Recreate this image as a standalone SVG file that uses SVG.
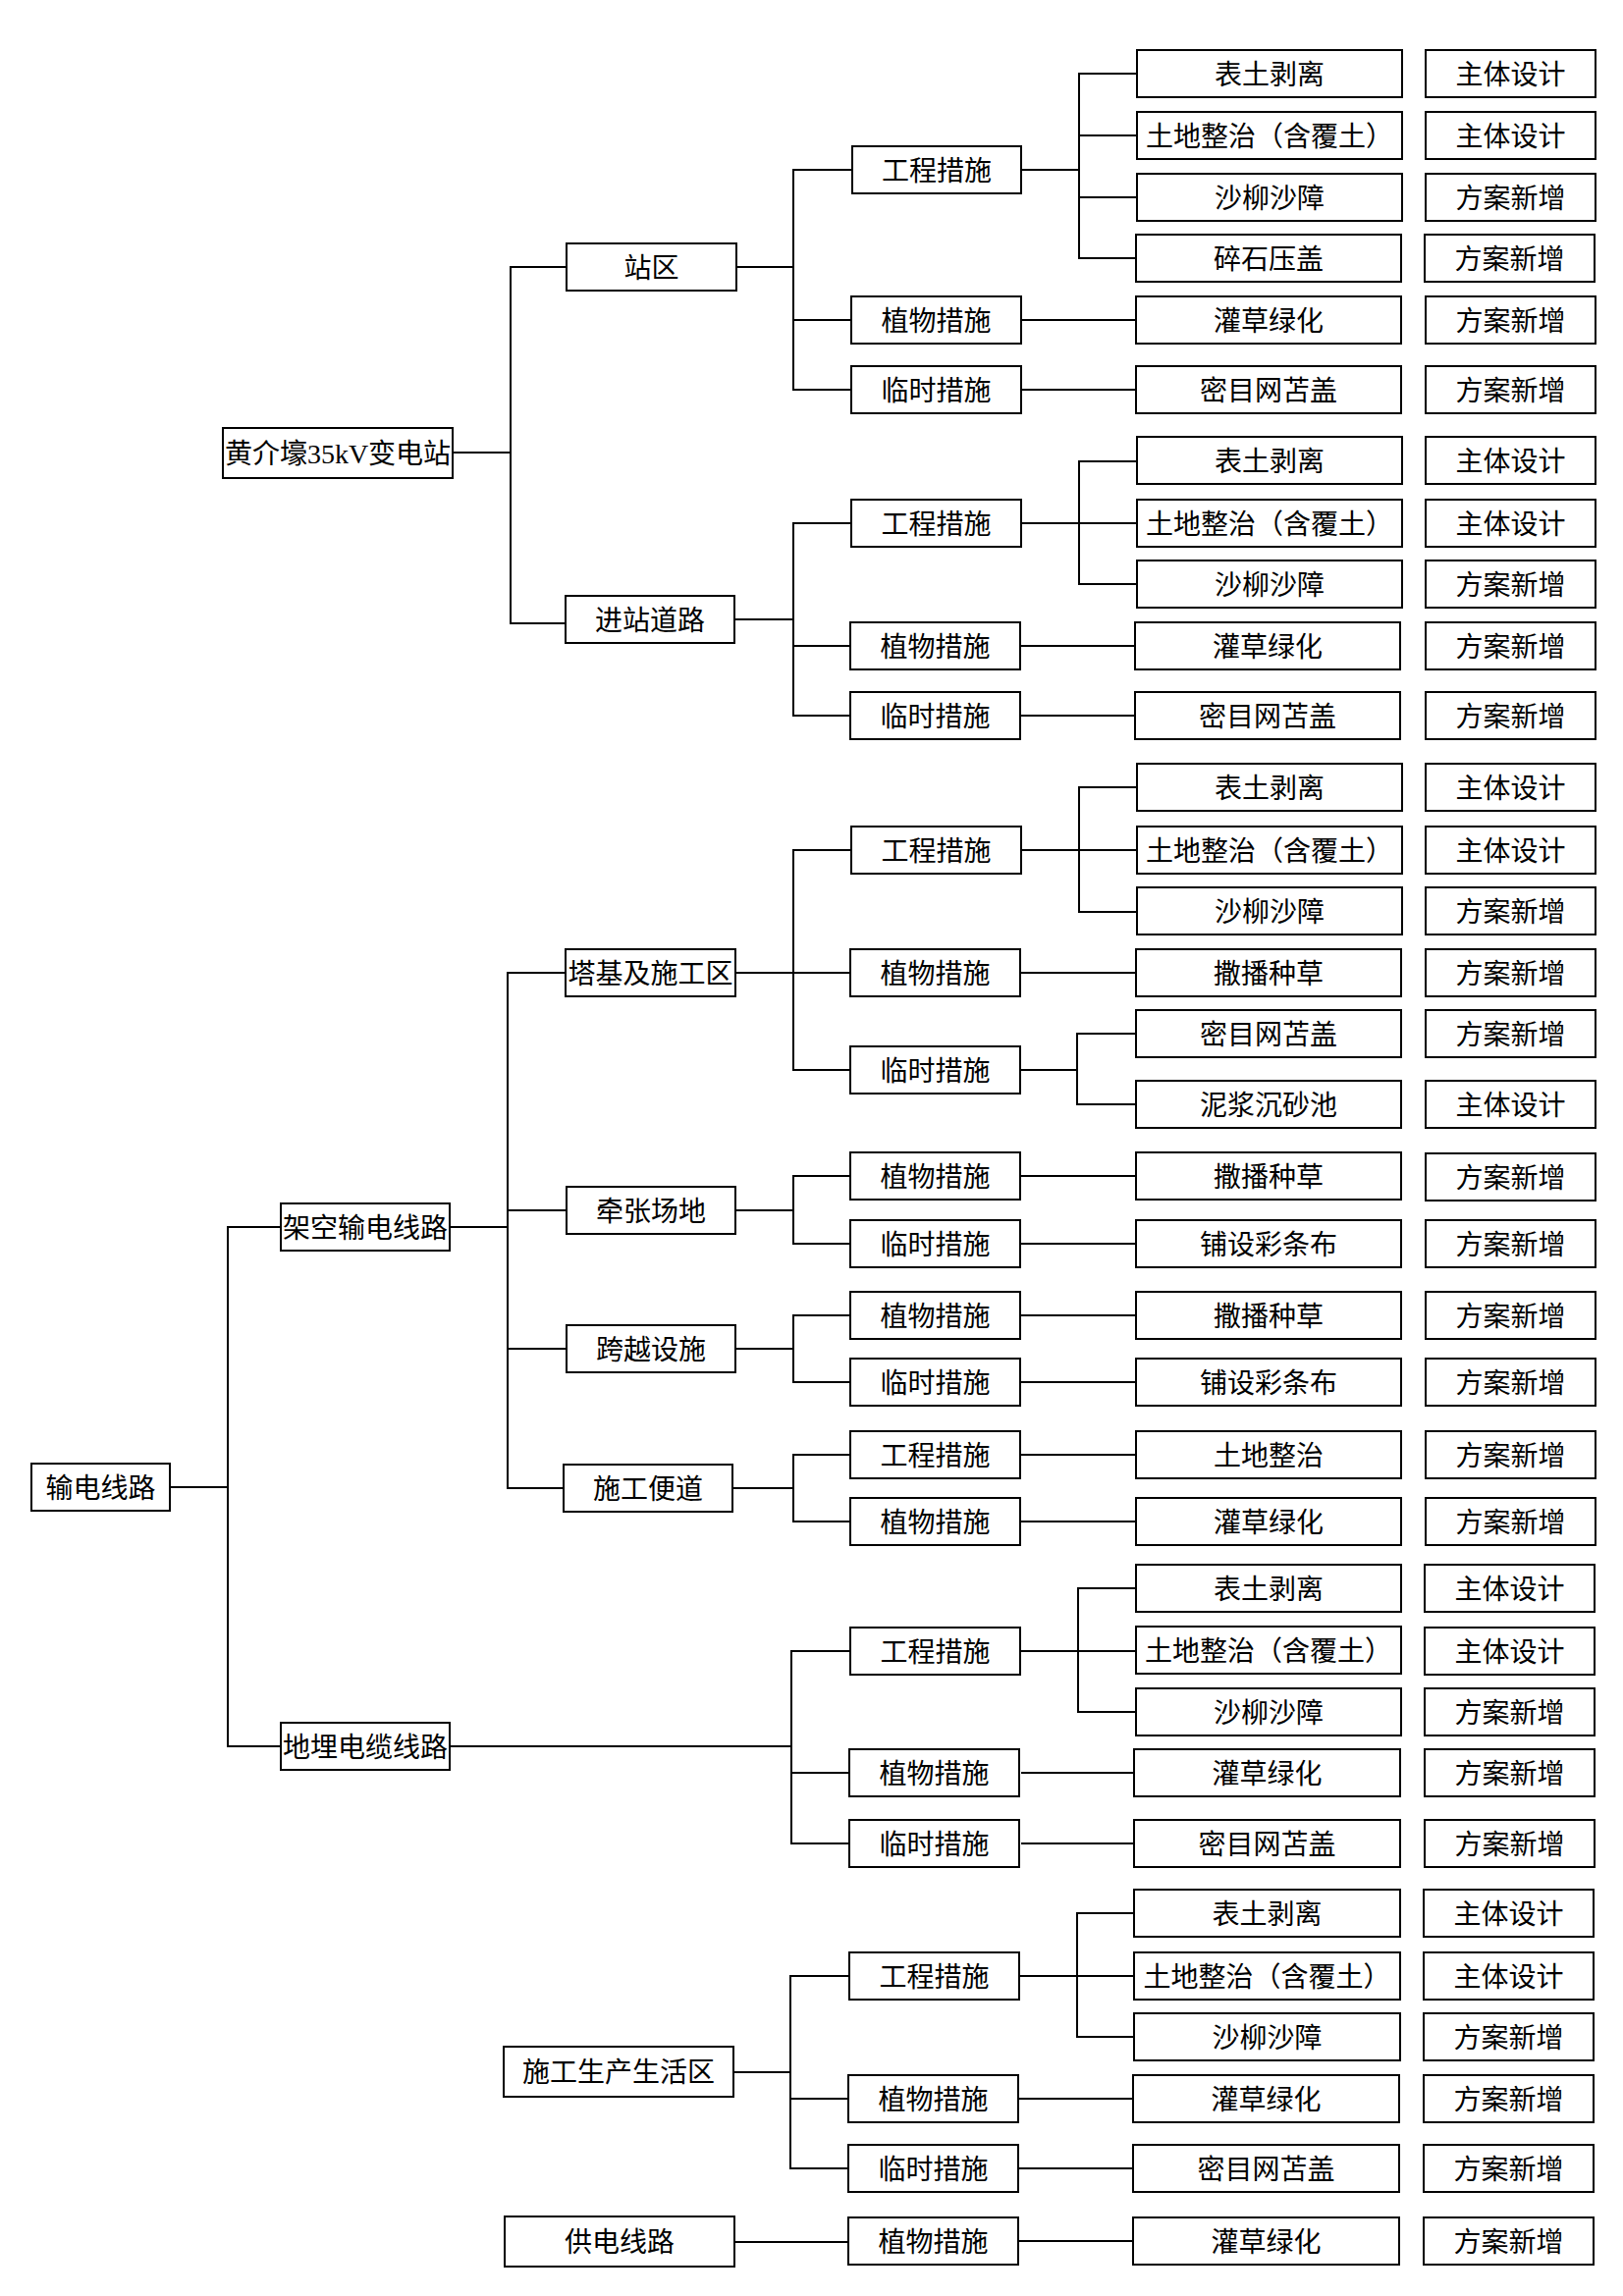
<svg xmlns="http://www.w3.org/2000/svg" width="1653" height="2339" viewBox="0 0 1653 2339">
<style>
.b{fill:#fff;stroke:#000;stroke-width:2}
.t{font-family:"Liberation Serif","Noto Sans CJK SC",serif;font-size:28px;fill:#000;text-anchor:middle;dominant-baseline:central}
.c{fill:none;stroke:#000;stroke-width:2}
</style>
<rect width="1653" height="2339" fill="#fff"/>
<g id="connectors" class="c">
<path d="M461,461H520M577,272H520V635H576"/>
<path d="M750,272H808M867,173H808V397H867M808,326H867"/>
<path d="M1040,173H1099M1158,75H1099V263H1157M1099,138H1158M1099,201H1158"/>
<path d="M1040,326H1157M1040,397H1157"/>
<path d="M748,631H808M867,533H808V729H867M808,658H867"/>
<path d="M1040,533H1099M1158,470H1099V595H1158M1099,533H1158"/>
<path d="M1040,658H1156M1040,729H1156"/>
<path d="M458,1250H517M576,991H517V1516H574M517,1233H577M517,1374H577"/>
<path d="M749,991H808M867,866H808V1090H867M808,991H867"/>
<path d="M1040,866H1099M1158,802H1099V929H1158M1099,866H1158"/>
<path d="M1040,991H1157"/>
<path d="M1040,1090H1097M1157,1053H1097V1125H1157"/>
<path d="M749,1233H808M867,1198H808V1267H867M1040,1198H1157M1040,1267H1157"/>
<path d="M749,1374H808M867,1340H808V1408H867M1040,1340H1157M1040,1408H1157"/>
<path d="M746,1516H808M867,1482H808V1550H867M1040,1482H1157M1040,1550H1157"/>
<path d="M173,1515H232M286,1250H232V1779H286"/>
<path d="M458,1779H806M866,1682H806V1878H866M806,1806H866"/>
<path d="M1040,1682H1098M1157,1618H1098V1744H1157M1098,1682H1157"/>
<path d="M1040,1806H1155M1040,1878H1155"/>
<path d="M747,2111H805M865,2013H805V2209H865M805,2138H865"/>
<path d="M1038,2013H1097M1155,1949H1097V2075H1155M1097,2013H1155"/>
<path d="M1038,2138H1154M1038,2209H1154"/>
<path d="M748,2284H865M1038,2283H1154"/>
</g>

<!-- root level -->
<g id="n-huangjie"><rect class="b" x="227" y="436" width="234" height="51"/><text class="t" x="344" y="462.5">黄介壕35kV变电站</text></g>
<g id="n-shudian"><rect class="b" x="32" y="1491" width="141" height="48"/><text class="t" x="102.5" y="1516">输电线路</text></g>
<g id="n-jiakong"><rect class="b" x="286" y="1226" width="172" height="48"/><text class="t" x="372" y="1251">架空输电线路</text></g>
<g id="n-dimai"><rect class="b" x="286" y="1755" width="172" height="48"/><text class="t" x="372" y="1780">地埋电缆线路</text></g>

<!-- level 1 -->
<g id="n-zhanqu"><rect class="b" x="577" y="248" width="173" height="48"/><text class="t" x="663.5" y="273">站区</text></g>
<g id="n-jinzhan"><rect class="b" x="576" y="607" width="172" height="48"/><text class="t" x="662" y="632">进站道路</text></g>
<g id="n-taji"><rect class="b" x="576" y="967" width="173" height="48"/><text class="t" x="662.5" y="992">塔基及施工区</text></g>
<g id="n-qianzhang"><rect class="b" x="577" y="1209" width="172" height="48"/><text class="t" x="663" y="1234">牵张场地</text></g>
<g id="n-kuayue"><rect class="b" x="577" y="1350" width="172" height="48"/><text class="t" x="663" y="1375">跨越设施</text></g>
<g id="n-biandao"><rect class="b" x="574" y="1492" width="172" height="48"/><text class="t" x="660" y="1517">施工便道</text></g>
<g id="n-shenghuo"><rect class="b" x="513" y="2085" width="234" height="51"/><text class="t" x="630" y="2111.5">施工生产生活区</text></g>
<g id="n-gongdian"><rect class="b" x="514" y="2258" width="234" height="51"/><text class="t" x="631" y="2284.5">供电线路</text></g>

<!-- level 2 -->
<g id="n-a-gc"><rect class="b" x="868" y="149" width="172" height="48"/><text class="t" x="954" y="174">工程措施</text></g>
<g id="n-a-zw"><rect class="b" x="867" y="302" width="173" height="48"/><text class="t" x="953.5" y="327">植物措施</text></g>
<g id="n-a-ls"><rect class="b" x="867" y="373" width="173" height="48"/><text class="t" x="953.5" y="398">临时措施</text></g>
<g id="n-b-gc"><rect class="b" x="867" y="509" width="173" height="48"/><text class="t" x="953.5" y="534">工程措施</text></g>
<g id="n-b-zw"><rect class="b" x="866" y="634" width="173" height="48"/><text class="t" x="952.5" y="659">植物措施</text></g>
<g id="n-b-ls"><rect class="b" x="866" y="705" width="173" height="48"/><text class="t" x="952.5" y="730">临时措施</text></g>
<g id="n-c-gc"><rect class="b" x="867" y="842" width="173" height="48"/><text class="t" x="953.5" y="867">工程措施</text></g>
<g id="n-c-zw"><rect class="b" x="866" y="967" width="173" height="48"/><text class="t" x="952.5" y="992">植物措施</text></g>
<g id="n-c-ls"><rect class="b" x="866" y="1066" width="173" height="48"/><text class="t" x="952.5" y="1091">临时措施</text></g>
<g id="n-d-zw"><rect class="b" x="866" y="1174" width="173" height="48"/><text class="t" x="952.5" y="1199">植物措施</text></g>
<g id="n-d-ls"><rect class="b" x="866" y="1243" width="173" height="48"/><text class="t" x="952.5" y="1268">临时措施</text></g>
<g id="n-e-zw"><rect class="b" x="866" y="1316" width="173" height="48"/><text class="t" x="952.5" y="1341">植物措施</text></g>
<g id="n-e-ls"><rect class="b" x="866" y="1384" width="173" height="48"/><text class="t" x="952.5" y="1409">临时措施</text></g>
<g id="n-f-gc"><rect class="b" x="866" y="1458" width="173" height="48"/><text class="t" x="952.5" y="1483">工程措施</text></g>
<g id="n-f-zw"><rect class="b" x="866" y="1526" width="173" height="48"/><text class="t" x="952.5" y="1551">植物措施</text></g>
<g id="n-g-gc"><rect class="b" x="866" y="1658" width="173" height="48"/><text class="t" x="952.5" y="1683">工程措施</text></g>
<g id="n-g-zw"><rect class="b" x="865" y="1782" width="173" height="48"/><text class="t" x="951.5" y="1807">植物措施</text></g>
<g id="n-g-ls"><rect class="b" x="865" y="1854" width="173" height="48"/><text class="t" x="951.5" y="1879">临时措施</text></g>
<g id="n-h-gc"><rect class="b" x="865" y="1989" width="173" height="48"/><text class="t" x="951.5" y="2014">工程措施</text></g>
<g id="n-h-zw"><rect class="b" x="864" y="2114" width="173" height="48"/><text class="t" x="950.5" y="2139">植物措施</text></g>
<g id="n-h-ls"><rect class="b" x="864" y="2185" width="173" height="48"/><text class="t" x="950.5" y="2210">临时措施</text></g>
<g id="n-i-zw"><rect class="b" x="864" y="2259" width="173" height="48"/><text class="t" x="950.5" y="2284">植物措施</text></g>

<!-- level 3 and 4 -->
<g id="n-a1"><rect class="b" x="1158" y="51" width="270" height="48"/><text class="t" x="1293" y="76">表土剥离</text></g>
<g id="n-a1s"><rect class="b" x="1452" y="51" width="173" height="48"/><text class="t" x="1538.5" y="76">主体设计</text></g>
<g id="n-a2"><rect class="b" x="1158" y="114" width="270" height="48"/><text class="t" x="1293" y="139">土地整治（含覆土）</text></g>
<g id="n-a2s"><rect class="b" x="1452" y="114" width="173" height="48"/><text class="t" x="1538.5" y="139">主体设计</text></g>
<g id="n-a3"><rect class="b" x="1158" y="177" width="270" height="48"/><text class="t" x="1293" y="202">沙柳沙障</text></g>
<g id="n-a3s"><rect class="b" x="1452" y="177" width="173" height="48"/><text class="t" x="1538.5" y="202">方案新增</text></g>
<g id="n-a4"><rect class="b" x="1157" y="239" width="270" height="48"/><text class="t" x="1292" y="264">碎石压盖</text></g>
<g id="n-a4s"><rect class="b" x="1451" y="239" width="173" height="48"/><text class="t" x="1537.5" y="264">方案新增</text></g>
<g id="n-a5"><rect class="b" x="1157" y="302" width="270" height="48"/><text class="t" x="1292" y="327">灌草绿化</text></g>
<g id="n-a5s"><rect class="b" x="1452" y="302" width="173" height="48"/><text class="t" x="1538.5" y="327">方案新增</text></g>
<g id="n-a6"><rect class="b" x="1157" y="373" width="270" height="48"/><text class="t" x="1292" y="398">密目网苫盖</text></g>
<g id="n-a6s"><rect class="b" x="1452" y="373" width="173" height="48"/><text class="t" x="1538.5" y="398">方案新增</text></g>

<g id="n-b1"><rect class="b" x="1158" y="445" width="270" height="48"/><text class="t" x="1293" y="470">表土剥离</text></g>
<g id="n-b1s"><rect class="b" x="1452" y="445" width="173" height="48"/><text class="t" x="1538.5" y="470">主体设计</text></g>
<g id="n-b2"><rect class="b" x="1158" y="509" width="270" height="48"/><text class="t" x="1293" y="534">土地整治（含覆土）</text></g>
<g id="n-b2s"><rect class="b" x="1452" y="509" width="173" height="48"/><text class="t" x="1538.5" y="534">主体设计</text></g>
<g id="n-b3"><rect class="b" x="1158" y="571" width="270" height="48"/><text class="t" x="1293" y="596">沙柳沙障</text></g>
<g id="n-b3s"><rect class="b" x="1452" y="571" width="173" height="48"/><text class="t" x="1538.5" y="596">方案新增</text></g>
<g id="n-b4"><rect class="b" x="1156" y="634" width="270" height="48"/><text class="t" x="1291" y="659">灌草绿化</text></g>
<g id="n-b4s"><rect class="b" x="1452" y="634" width="173" height="48"/><text class="t" x="1538.5" y="659">方案新增</text></g>
<g id="n-b5"><rect class="b" x="1156" y="705" width="270" height="48"/><text class="t" x="1291" y="730">密目网苫盖</text></g>
<g id="n-b5s"><rect class="b" x="1452" y="705" width="173" height="48"/><text class="t" x="1538.5" y="730">方案新增</text></g>

<g id="n-c1"><rect class="b" x="1158" y="778" width="270" height="48"/><text class="t" x="1293" y="803">表土剥离</text></g>
<g id="n-c1s"><rect class="b" x="1452" y="778" width="173" height="48"/><text class="t" x="1538.5" y="803">主体设计</text></g>
<g id="n-c2"><rect class="b" x="1158" y="842" width="270" height="48"/><text class="t" x="1293" y="867">土地整治（含覆土）</text></g>
<g id="n-c2s"><rect class="b" x="1452" y="842" width="173" height="48"/><text class="t" x="1538.5" y="867">主体设计</text></g>
<g id="n-c3"><rect class="b" x="1158" y="904" width="270" height="48"/><text class="t" x="1293" y="929">沙柳沙障</text></g>
<g id="n-c3s"><rect class="b" x="1452" y="904" width="173" height="48"/><text class="t" x="1538.5" y="929">方案新增</text></g>
<g id="n-c4"><rect class="b" x="1157" y="967" width="270" height="48"/><text class="t" x="1292" y="992">撒播种草</text></g>
<g id="n-c4s"><rect class="b" x="1452" y="967" width="173" height="48"/><text class="t" x="1538.5" y="992">方案新增</text></g>
<g id="n-c5"><rect class="b" x="1157" y="1029" width="270" height="48"/><text class="t" x="1292" y="1054">密目网苫盖</text></g>
<g id="n-c5s"><rect class="b" x="1452" y="1029" width="173" height="48"/><text class="t" x="1538.5" y="1054">方案新增</text></g>
<g id="n-c6"><rect class="b" x="1157" y="1101" width="270" height="48"/><text class="t" x="1292" y="1126">泥浆沉砂池</text></g>
<g id="n-c6s"><rect class="b" x="1452" y="1101" width="173" height="48"/><text class="t" x="1538.5" y="1126">主体设计</text></g>

<g id="n-d1"><rect class="b" x="1157" y="1174" width="270" height="48"/><text class="t" x="1292" y="1199">撒播种草</text></g>
<g id="n-d1s"><rect class="b" x="1452" y="1175" width="173" height="48"/><text class="t" x="1538.5" y="1200">方案新增</text></g>
<g id="n-d2"><rect class="b" x="1157" y="1243" width="270" height="48"/><text class="t" x="1292" y="1268">铺设彩条布</text></g>
<g id="n-d2s"><rect class="b" x="1452" y="1243" width="173" height="48"/><text class="t" x="1538.5" y="1268">方案新增</text></g>
<g id="n-e1"><rect class="b" x="1157" y="1316" width="270" height="48"/><text class="t" x="1292" y="1341">撒播种草</text></g>
<g id="n-e1s"><rect class="b" x="1452" y="1316" width="173" height="48"/><text class="t" x="1538.5" y="1341">方案新增</text></g>
<g id="n-e2"><rect class="b" x="1157" y="1384" width="270" height="48"/><text class="t" x="1292" y="1409">铺设彩条布</text></g>
<g id="n-e2s"><rect class="b" x="1452" y="1384" width="173" height="48"/><text class="t" x="1538.5" y="1409">方案新增</text></g>
<g id="n-f1"><rect class="b" x="1157" y="1458" width="270" height="48"/><text class="t" x="1292" y="1483">土地整治</text></g>
<g id="n-f1s"><rect class="b" x="1452" y="1458" width="173" height="48"/><text class="t" x="1538.5" y="1483">方案新增</text></g>
<g id="n-f2"><rect class="b" x="1157" y="1526" width="270" height="48"/><text class="t" x="1292" y="1551">灌草绿化</text></g>
<g id="n-f2s"><rect class="b" x="1452" y="1526" width="173" height="48"/><text class="t" x="1538.5" y="1551">方案新增</text></g>

<g id="n-g1"><rect class="b" x="1157" y="1594" width="270" height="48"/><text class="t" x="1292" y="1619">表土剥离</text></g>
<g id="n-g1s"><rect class="b" x="1451" y="1594" width="173" height="48"/><text class="t" x="1537.5" y="1619">主体设计</text></g>
<g id="n-g2"><rect class="b" x="1157" y="1657" width="270" height="48"/><text class="t" x="1292" y="1682">土地整治（含覆土）</text></g>
<g id="n-g2s"><rect class="b" x="1451" y="1658" width="173" height="48"/><text class="t" x="1537.5" y="1683">主体设计</text></g>
<g id="n-g3"><rect class="b" x="1157" y="1720" width="270" height="48"/><text class="t" x="1292" y="1745">沙柳沙障</text></g>
<g id="n-g3s"><rect class="b" x="1451" y="1720" width="173" height="48"/><text class="t" x="1537.5" y="1745">方案新增</text></g>
<g id="n-g4"><rect class="b" x="1155" y="1782" width="271" height="48"/><text class="t" x="1290.5" y="1807">灌草绿化</text></g>
<g id="n-g4s"><rect class="b" x="1451" y="1782" width="173" height="48"/><text class="t" x="1537.5" y="1807">方案新增</text></g>
<g id="n-g5"><rect class="b" x="1155" y="1854" width="271" height="48"/><text class="t" x="1290.5" y="1879">密目网苫盖</text></g>
<g id="n-g5s"><rect class="b" x="1451" y="1854" width="173" height="48"/><text class="t" x="1537.5" y="1879">方案新增</text></g>

<g id="n-h1"><rect class="b" x="1155" y="1925" width="271" height="48"/><text class="t" x="1290.5" y="1950">表土剥离</text></g>
<g id="n-h1s"><rect class="b" x="1450" y="1925" width="173" height="48"/><text class="t" x="1536.5" y="1950">主体设计</text></g>
<g id="n-h2"><rect class="b" x="1155" y="1989" width="271" height="48"/><text class="t" x="1290.5" y="2014">土地整治（含覆土）</text></g>
<g id="n-h2s"><rect class="b" x="1450" y="1989" width="173" height="48"/><text class="t" x="1536.5" y="2014">主体设计</text></g>
<g id="n-h3"><rect class="b" x="1155" y="2051" width="271" height="48"/><text class="t" x="1290.5" y="2076">沙柳沙障</text></g>
<g id="n-h3s"><rect class="b" x="1450" y="2051" width="173" height="48"/><text class="t" x="1536.5" y="2076">方案新增</text></g>
<g id="n-h4"><rect class="b" x="1154" y="2114" width="271" height="48"/><text class="t" x="1289.5" y="2139">灌草绿化</text></g>
<g id="n-h4s"><rect class="b" x="1450" y="2114" width="173" height="48"/><text class="t" x="1536.5" y="2139">方案新增</text></g>
<g id="n-h5"><rect class="b" x="1154" y="2185" width="271" height="48"/><text class="t" x="1289.5" y="2210">密目网苫盖</text></g>
<g id="n-h5s"><rect class="b" x="1450" y="2185" width="173" height="48"/><text class="t" x="1536.5" y="2210">方案新增</text></g>
<g id="n-i1"><rect class="b" x="1154" y="2259" width="271" height="48"/><text class="t" x="1289.5" y="2284">灌草绿化</text></g>
<g id="n-i1s"><rect class="b" x="1450" y="2259" width="173" height="48"/><text class="t" x="1536.5" y="2284">方案新增</text></g>
</svg>
